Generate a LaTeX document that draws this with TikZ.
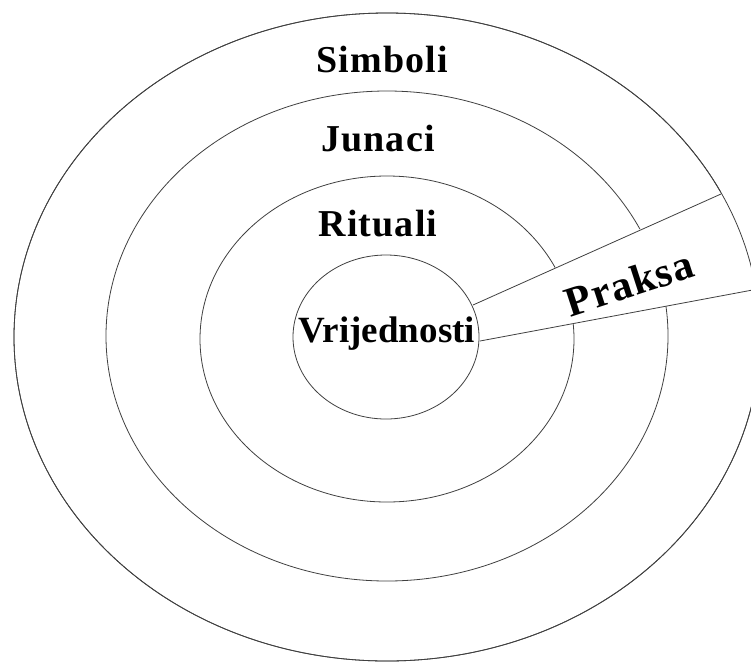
\documentclass[tikz,border=0pt]{standalone}
\usepackage{fontspec}
\setmainfont{Liberation Serif}
\begin{document}
\begin{tikzpicture}[x=1pt,y=-1pt,
  ring/.style={draw=black!75,line width=0.8pt},
  lbl/.style={font=\fontsize{38}{40}\selectfont\bfseries\addfontfeature{LetterSpace=3},text=black,inner sep=0pt},
  lblv/.style={font=\fontsize{37}{40}\selectfont\bfseries,text=black,inner sep=0pt},
  lblp/.style={font=\fontsize{42}{44}\selectfont\bfseries\addfontfeature{LetterSpace=3},text=black,inner sep=0pt}]
\useasboundingbox (0,0) rectangle (751,662);
\clip (0,0) rectangle (751,662);
\fill[white] (0,0) rectangle (751,662);
% rings
\draw[ring] (387,337) ellipse [x radius=373pt, y radius=324pt];
\draw[ring] (387,336) ellipse [x radius=281pt, y radius=245pt];
\draw[ring] (387,339) ellipse [x radius=187pt, y radius=163pt];
% wedge end points
\coordinate (a1) at (473,305);
\coordinate (a2) at (721,194);
\coordinate (b1) at (480,341);
\coordinate (b2) at (790,283);
\coordinate (a3) at (790,161);
\fill[white] (a1) -- (a3) -- (b2) -- (b1) -- cycle;
\draw[ring] (387,337) ellipse [x radius=373pt, y radius=324pt];
\draw[ring] (a1) -- (a2);
\draw[ring] (b1) -- (b2);
\draw[ring,fill=white] (386,337) ellipse [x radius=93pt, y radius=82pt];
% labels
\node[lbl] (simboli) at (382,59) {Simboli};
\node[lbl] (junaci) at (378,139) {Junaci};
\node[lbl] (rituali) at (378,224) {Rituali};
\node[lblv] (vrij) at (387,334) {Vrijednosti};
\node[lblp,rotate=18] (praksa) at (629,283) {Praksa};
\end{tikzpicture}
\end{document}
